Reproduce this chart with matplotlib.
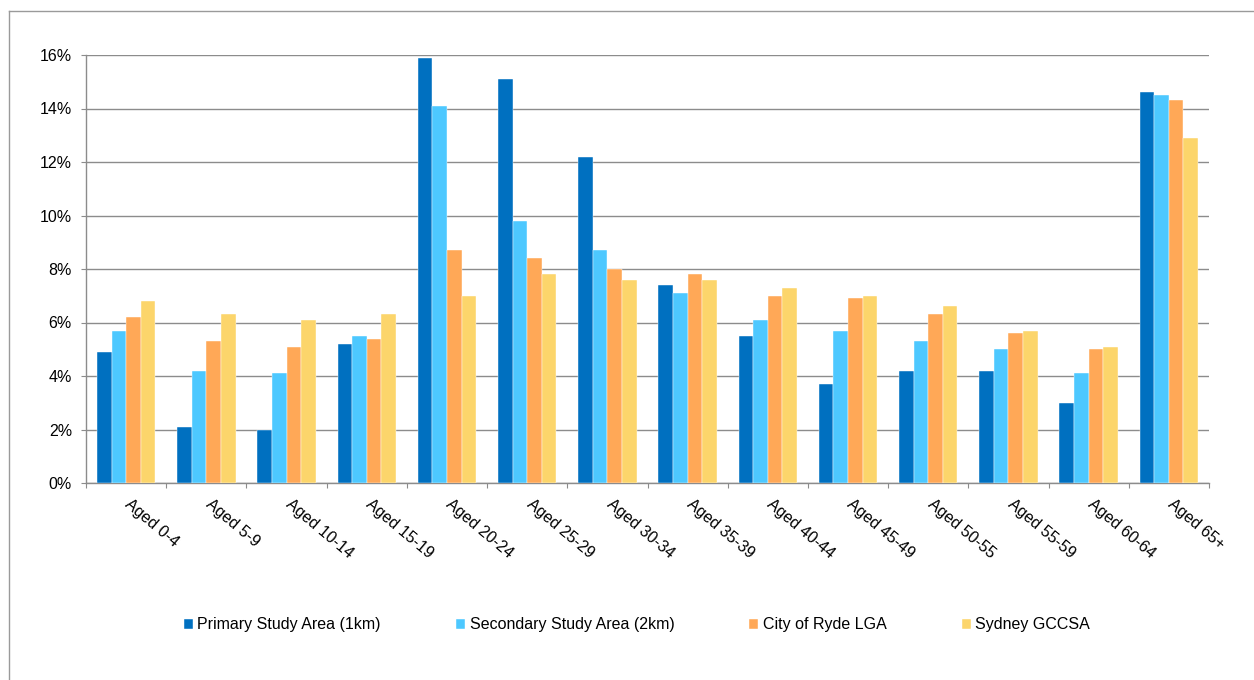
#!/usr/bin/env python3
# -*- coding: utf-8 -*-

import matplotlib
matplotlib.use('Agg')
import matplotlib.pyplot as plt
import matplotlib.transforms as mtransforms
from matplotlib.lines import Line2D
from matplotlib.ticker import FuncFormatter
import numpy as np

# 年龄段
age_groups = ['Aged 0-4', 'Aged 5-9', 'Aged 10-14', 'Aged 15-19', 'Aged 20-24',
              'Aged 25-29', 'Aged 30-34', 'Aged 35-39', 'Aged 40-44', 'Aged 45-49',
              'Aged 50-55', 'Aged 55-59', 'Aged 60-64', 'Aged 65+']

# 各区域人口比例 (%)
primary_1km = [4.9, 2.1, 2.0, 5.2, 15.9, 15.1, 12.2, 7.4, 5.5, 3.7, 4.2, 4.2, 3.0, 14.6]
secondary_2km = [5.7, 4.2, 4.1, 5.5, 14.1, 9.8, 8.7, 7.1, 6.1, 5.7, 5.3, 5.0, 4.1, 14.5]
ryde_lga = [6.2, 5.3, 5.1, 5.4, 8.7, 8.4, 8.0, 7.8, 7.0, 6.9, 6.3, 5.6, 5.0, 14.3]
sydney_gccsa = [6.8, 6.3, 6.1, 6.3, 7.0, 7.8, 7.6, 7.6, 7.3, 7.0, 6.6, 5.7, 5.1, 12.9]

series_names = ['Primary Study Area (1km)', 'Secondary Study Area (2km)',
                'City of Ryde LGA', 'Sydney GCCSA']
series_colors = ['#0070C0', '#4DC8FF', '#FFA857', '#FCD56B']

plt.rcParams['font.family'] = ['Liberation Sans', 'DejaVu Sans']
plt.rcParams['font.size'] = 11.5

GRID = '#8c8c8c'


def main():
    fig = plt.figure(figsize=(12.54, 6.80), dpi=100)
    ax = fig.add_axes([86 / 1254, 1 - 483 / 680, (1209 - 86) / 1254, (483 - 55) / 680])

    x = np.arange(len(age_groups))
    width = 0.182
    all_series = [primary_1km, secondary_2km, ryde_lga, sydney_gccsa]
    for i, (vals, name, col) in enumerate(zip(all_series, series_names, series_colors)):
        offset = (i - 1.5) * width
        ax.bar(x + offset, vals, width, color=col, label=name, zorder=3,
               edgecolor='white', linewidth=0.3)

    # 坐标轴
    ax.set_xlim(-0.5, len(age_groups) - 0.5)
    ax.set_ylim(0, 16)
    ax.set_yticks(np.arange(0, 17, 2))
    ax.yaxis.set_major_formatter(FuncFormatter(lambda v, p: '%d%%' % v))
    ax.grid(axis='y', color=GRID, linewidth=1.0, zorder=0)
    for s in ['top', 'right']:
        ax.spines[s].set_visible(False)
    for s in ['left', 'bottom']:
        ax.spines[s].set_color(GRID)
        ax.spines[s].set_linewidth(1.0)
    ax.tick_params(axis='y', length=3.6, color=GRID, pad=6.5, labelsize=11.5)

    # x轴刻度在类别边界, 标签在中心
    ax.set_xticks(np.arange(-0.5, len(age_groups), 1.0))
    ax.set_xticklabels([])
    ax.set_xticks(x, minor=True)
    ax.set_xticklabels(age_groups, minor=True, rotation=-40, ha='left',
                       va='top', rotation_mode='anchor')
    ax.tick_params(axis='x', which='major', length=3.6, color=GRID)
    ax.tick_params(axis='x', which='minor', length=0, pad=10, labelsize=11.5)
    shift = mtransforms.ScaledTranslation(6 / 100, 0, fig.dpi_scale_trans)
    for lab in ax.get_xticklabels(minor=True):
        lab.set_transform(lab.get_transform() + shift)

    # 图例
    fig.legend(loc='center', bbox_to_anchor=(0.508, 1 - 625 / 680), ncol=4,
               frameon=False, handlelength=0.55, handleheight=0.55,
               handletextpad=0.3, columnspacing=4.7, fontsize=11.5)

    # 外框
    fig.add_artist(Line2D([9 / 1254, 9 / 1254], [0, 1 - 11 / 680],
                          transform=fig.transFigure, color='#9a9a9a', linewidth=1.0))
    fig.add_artist(Line2D([9 / 1254, 1], [1 - 11 / 680, 1 - 11 / 680],
                          transform=fig.transFigure, color='#9a9a9a', linewidth=1.0))

    fig.savefig('out.png', dpi=100, facecolor='white')


if __name__ == '__main__':
    main()
